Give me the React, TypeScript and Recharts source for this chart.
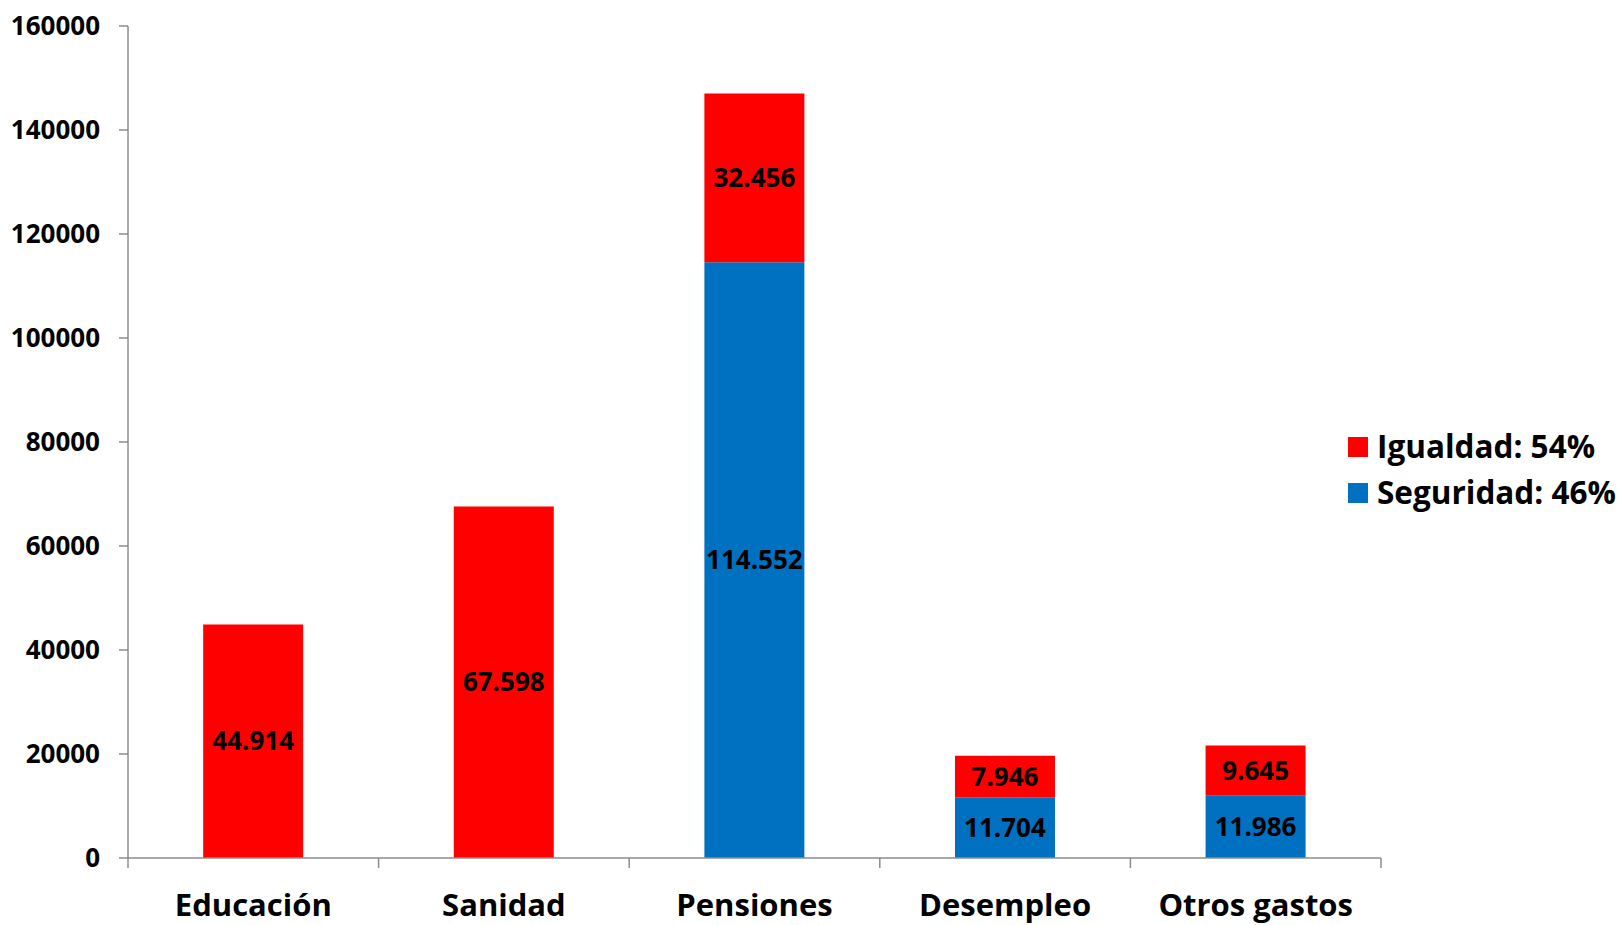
import React from 'react';
import { BarChart, Bar, XAxis, YAxis, Legend, LabelList } from 'recharts';

const categories = ['Educación', 'Sanidad', 'Pensiones', 'Desempleo', 'Otros gastos'];
const igualdad = [44914, 67598, 32456, 7946, 9645];
const seguridad = [0, 0, 114552, 11704, 11986];
const yTicks = [0, 20000, 40000, 60000, 80000, 100000, 120000, 140000, 160000];
const legendItems = [
  { key: 'igualdad', label: 'Igualdad: 54%', color: '#FF0000' },
  { key: 'seguridad', label: 'Seguridad: 46%', color: '#0070C0' },
];

const data = categories.map((c, i) => ({ name: c, igualdad: igualdad[i], seguridad: seguridad[i] }));

const FONT = '"Open Sans", sans-serif';
const AXIS_COLOR = '#8c8c8c';

const fmt = (v: any) => {
  if (!v) return '';
  return String(v).replace(/\B(?=(\d{3})+(?!\d))/g, '.');
};

const CatTick = (props: any) => {
  const { x, y, payload, index, visibleTicksCount } = props;
  const off = payload && payload.offset ? payload.offset : 0;
  const last = index === (visibleTicksCount ?? categories.length) - 1;
  return (
    <g>
      <line x1={x - off} x2={x - off} y1={y} y2={y + 10} stroke={AXIS_COLOR} strokeWidth={1.5} />
      {last && <line x1={x + off} x2={x + off} y1={y} y2={y + 10} stroke={AXIS_COLOR} strokeWidth={1.5} />}
      <text x={x} y={y + 58} textAnchor="middle" fontFamily={FONT} fontWeight={700} fontSize={31} fill="#000">
        {payload.value}
      </text>
    </g>
  );
};

const LegendContent = () => (
  <div style={{ fontFamily: FONT, fontWeight: 700, fontSize: 31.5, color: '#000' }}>
    {legendItems.map((it) => (
      <div key={it.key} style={{ display: 'flex', alignItems: 'center', height: 46, whiteSpace: 'nowrap' }}>
        <span style={{ display: 'inline-block', width: 20, height: 20, background: it.color, marginRight: 9, marginTop: 3 }} />
        <span>{it.label}</span>
      </div>
    ))}
  </div>
);

export default function App() {
  return (
    <div style={{ position: 'absolute', left: 0, top: 0, width: 1620, height: 925, background: '#fff' }}>
      <BarChart
        width={1620}
        height={925}
        data={data}
        margin={{ top: 26, right: 239, left: 0, bottom: 7 }}
        barCategoryGap="30%"
      >
        <XAxis
          dataKey="name"
          height={60}
          axisLine={{ stroke: AXIS_COLOR, strokeWidth: 1.5 }}
          tickLine={false}
          tickSize={0}
          tickMargin={0}
          interval={0}
          tick={<CatTick />}
        />
        <YAxis
          width={128}
          domain={[0, 160000]}
          ticks={yTicks}
          interval={0}
          axisLine={{ stroke: AXIS_COLOR, strokeWidth: 1.5 }}
          tickLine={{ stroke: AXIS_COLOR, strokeWidth: 1.5 }}
          tickSize={9}
          tickMargin={19}
          tick={{ fill: '#000', fontFamily: FONT, fontWeight: 700, fontSize: 26 }}
        />
        <Legend
          layout="horizontal"
          verticalAlign="middle"
          align="center"
          content={<LegendContent />}
          wrapperStyle={{ left: 1348, top: 422, width: 272, height: 92 }}
        />
        <Bar dataKey="seguridad" stackId="a" fill="#0070C0" isAnimationActive={false}>
          <LabelList dataKey="seguridad" position="center" formatter={fmt} fill="#000" fontFamily={FONT} fontWeight={700} fontSize={26} />
        </Bar>
        <Bar dataKey="igualdad" stackId="a" fill="#FF0000" isAnimationActive={false}>
          <LabelList dataKey="igualdad" position="center" formatter={fmt} fill="#000" fontFamily={FONT} fontWeight={700} fontSize={26} />
        </Bar>
      </BarChart>
    </div>
  );
}
